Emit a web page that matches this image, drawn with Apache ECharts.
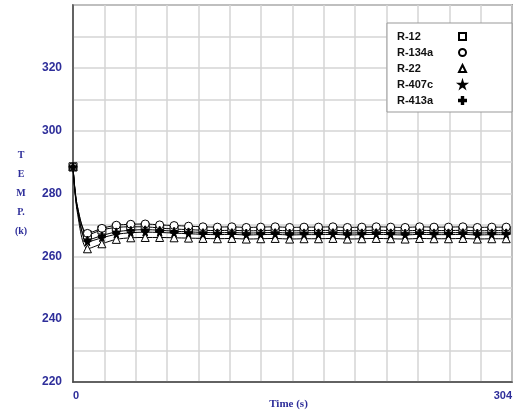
<!DOCTYPE html>
<html>
<head>
<meta charset="utf-8">
<script src="https://cdn.jsdelivr.net/npm/echarts@6/dist/echarts.min.js"></script>
<style>
html,body{margin:0;padding:0;background:#fff;}
#c{width:517px;height:414px;}
</style>
</head>
<body>
<div id="c"></div>
<script>
// Time points (s); the 3 s point is an unmarked curve point
const times = [0, 3, 10, 20, 30, 40, 50, 60, 70, 80, 90, 100, 110, 120, 130, 140, 150, 160, 170, 180, 190, 200, 210, 220, 230, 240, 250, 260, 270, 280, 290, 300];
const seriesNames = ['R-12', 'R-134a', 'R-22', 'R-407c', 'R-413a'];
const r12   = [288.5, 276, 266.8, 268.4, 269.2, 269.4, 269.4, 269.0, 268.7, 268.5, 268.3, 268.2, 268.3, 268.1, 268.2, 268.3, 268.1, 268.2, 268.2, 268.3, 268.1, 268.2, 268.3, 268.2, 268.1, 268.3, 268.2, 268.2, 268.3, 268.1, 268.2, 268.2];
const r134a = [288.5, 276, 267.3, 268.9, 269.9, 270.2, 270.3, 270.0, 269.8, 269.6, 269.4, 269.3, 269.4, 269.2, 269.3, 269.4, 269.2, 269.3, 269.3, 269.4, 269.2, 269.3, 269.4, 269.3, 269.2, 269.4, 269.3, 269.3, 269.4, 269.2, 269.3, 269.3];
const r22   = [288.5, 274, 262.4, 264.0, 265.4, 265.9, 266.0, 266.0, 265.9, 265.8, 265.7, 265.6, 265.7, 265.5, 265.6, 265.7, 265.5, 265.6, 265.6, 265.7, 265.5, 265.6, 265.7, 265.6, 265.5, 265.7, 265.6, 265.6, 265.7, 265.5, 265.6, 265.6];
const r407c = [288.5, 275, 264.6, 265.9, 267.0, 267.5, 267.7, 267.6, 267.4, 267.2, 267.0, 266.9, 267.0, 266.8, 266.9, 267.0, 266.8, 266.9, 266.9, 267.0, 266.8, 266.9, 267.0, 266.9, 266.8, 267.0, 266.9, 266.9, 267.0, 266.8, 266.9, 266.9];
const r413a = [288.5, 275, 265.2, 266.6, 267.8, 268.3, 268.5, 268.3, 268.0, 267.8, 267.6, 267.5, 267.6, 267.4, 267.5, 267.6, 267.4, 267.5, 267.5, 267.6, 267.4, 267.5, 267.6, 267.5, 267.4, 267.6, 267.5, 267.5, 267.6, 267.4, 267.5, 267.5];
const xTickLabels = [0, 304];
const yTickLabels = [220, 240, 260, 280, 300, 320];

const STAR = 'path://M50,0 L61,35 L98,35 L68,57 L79,91 L50,70 L21,91 L32,57 L2,35 L39,35 Z';
const PLUS = 'path://M40,0 H60 V40 H100 V60 H60 V100 H40 V60 H0 V40 H40 Z';
const styles = [
  {symbol: 'rect', fill: '#fff', size: 8},
  {symbol: 'circle', fill: '#fff', size: 8},
  {symbol: 'triangle', fill: '#fff', size: 8},
  {symbol: STAR, fill: '#000', size: 8},
  {symbol: PLUS, fill: '#000', size: 7}
];
const values = [r12, r134a, r22, r407c, r413a];
const blue = '#2e2e9a';

function buildData(vals) {
  return times.map((t, i) => t === 3 ? {value: [t, vals[i]], symbol: 'none'} : [t, vals[i]]);
}

const series = seriesNames.map((name, k) => ({
  name: name,
  type: 'line',
  data: buildData(values[k]),
  symbol: styles[k].symbol,
  symbolSize: styles[k].size,
  symbolKeepAspect: true,
  showAllSymbol: true,
  smooth: 0.3,
  lineStyle: {color: '#000', width: 1},
  itemStyle: {color: styles[k].fill, borderColor: '#000', borderWidth: 1},
  emphasis: {disabled: true},
  animation: false
}));

const chart = echarts.init(document.getElementById('c'));
chart.setOption({
  backgroundColor: '#fff',
  animation: false,
  grid: {left: 73, right: 5, top: 5, bottom: 32, show: true, borderColor: '#555', borderWidth: 1.5, backgroundColor: '#fff', containLabel: false, outerBoundsMode: 'none'},
  legend: {
    right: 5, top: 23,
    orient: 'vertical',
    align: 'right',
    data: seriesNames.map((n, k) => ({name: n, icon: k === 0 ? 'rect' : (k === 1 ? 'circle' : (k === 2 ? 'triangle' : styles[k].symbol))})),
    itemWidth: 7, itemHeight: 7,
    itemGap: 5,
    backgroundColor: '#fff',
    borderColor: '#999',
    borderWidth: 1,
    padding: [8, 45, 6, 10],
    formatter: n => '{a|' + n + '}',
    textStyle: {
      fontFamily: 'Liberation Sans, Arial', fontWeight: 'bold', fontSize: 11, color: '#111',
      rich: {a: {width: 57, align: 'left', fontFamily: 'Liberation Sans, Arial', fontWeight: 'bold', fontSize: 11, color: '#111'}}
    },
    selectedMode: false
  },
  xAxis: {
    type: 'value', min: 0, max: 304, interval: 304 / 14,
    name: 'Time (s)', nameLocation: 'middle', nameGap: 17, nameMoveOverlap: false,
    nameTextStyle: {fontFamily: 'Liberation Serif, Times New Roman', fontWeight: 'bold', fontSize: 11, color: blue, padding: [0, 8, 0, 0]},
    axisLine: {show: true, lineStyle: {color: '#444', width: 1.5}},
    axisTick: {show: false},
    splitLine: {show: true, lineStyle: {color: '#d4d4d4', width: 1.5}},
    axisLabel: {
      margin: 8,
      showMaxLabel: true, showMinLabel: true,
      alignMinLabel: 'left', alignMaxLabel: 'right',
      fontFamily: 'Liberation Sans, Arial', fontWeight: 'bold', fontSize: 11, color: blue,
      formatter: v => {
        for (const t of xTickLabels) { if (Math.abs(v - t) < 0.01) return String(t); }
        return '';
      }
    }
  },
  yAxis: {
    type: 'value', min: 220, max: 340, interval: 10,
    name: 'T\nE\nM\nP.\n(k)', nameLocation: 'middle', nameGap: 52, nameRotate: 0, nameMoveOverlap: false,
    nameTextStyle: {fontFamily: 'Liberation Serif, Times New Roman', fontWeight: 'bold', fontSize: 10, color: blue, lineHeight: 19, align: 'center', padding: [8, 0, 0, 0]},
    axisLine: {show: true, lineStyle: {color: '#444', width: 1.5}},
    axisTick: {show: false},
    splitLine: {show: true, lineStyle: {color: '#d4d4d4', width: 1.5}},
    axisLabel: {
      margin: 11,
      fontFamily: 'Liberation Sans, Arial', fontWeight: 'bold', fontSize: 12, color: blue,
      formatter: v => yTickLabels.indexOf(Math.round(v)) >= 0 ? String(Math.round(v)) : ''
    }
  },
  series: series
});
</script>
</body>
</html>
